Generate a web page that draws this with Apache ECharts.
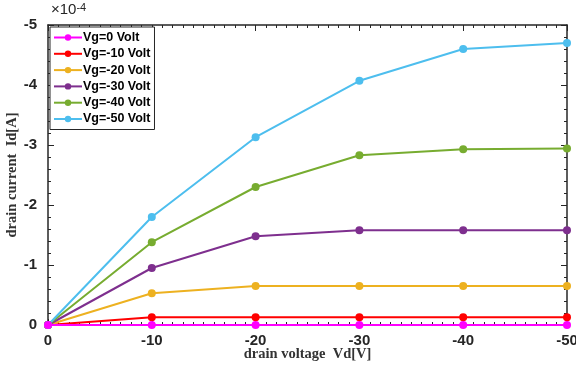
<!DOCTYPE html>
<html>
<head>
<meta charset="utf-8">
<script src="https://cdn.jsdelivr.net/npm/echarts@6/dist/echarts.min.js"></script>
<style>
  html, body { margin: 0; padding: 0; background: #fff; }
  #main { width: 576px; height: 371px; }
</style>
</head>
<body>
<div id="main"></div>
<script>
// drain voltage Vd [V]
const vd = [0, -10, -20, -30, -40, -50];
// drain current Id, in units of 1e-4 A
const vg0  = [0, 0, 0, 0, 0, 0];
const vg10 = [0, -0.13, -0.13, -0.13, -0.13, -0.13];
const vg20 = [0, -0.53, -0.65, -0.65, -0.65, -0.65];
const vg30 = [0, -0.95, -1.48, -1.58, -1.58, -1.58];
const vg40 = [0, -1.38, -2.30, -2.83, -2.93, -2.94];
const vg50 = [0, -1.80, -3.13, -4.07, -4.60, -4.70];

const names = ['Vg=0 Volt', 'Vg=-10 Volt', 'Vg=-20 Volt', 'Vg=-30 Volt', 'Vg=-40 Volt', 'Vg=-50 Volt'];
const colors = ['#ff00ff', '#ff0000', '#edb120', '#7e2f8e', '#77ac30', '#4dbeee'];
const curves = [vg0, vg10, vg20, vg30, vg40, vg50];

const axisColor = '#262626';
const labelFont = { fontFamily: 'Liberation Sans', fontWeight: 'bold', fontSize: 15, color: '#262626' };
const nameFont = { fontFamily: 'Liberation Serif', fontWeight: 'bold', fontSize: 14.5, color: '#333' };

function xAx(pos, showLabel) {
  return {
    type: 'value', position: pos, min: -50, max: 0, interval: 10, inverse: true,
    axisLine: { show: true, onZero: false, lineStyle: { color: axisColor, width: 1.5 } },
    axisTick: { show: true, inside: true, length: 6, lineStyle: { color: axisColor } },
    minorTick: { show: true, splitNumber: 10, length: 3, lineStyle: { color: axisColor } },
    splitLine: { show: false },
    axisLabel: Object.assign({ show: showLabel, margin: 8 }, labelFont),
    name: showLabel ? 'drain voltage  Vd[V]' : '',
    nameLocation: 'middle', nameGap: 22, nameMoveOverlap: false,
    nameTextStyle: nameFont
  };
}
function yAx(pos, showLabel) {
  return {
    type: 'value', position: pos, min: -5, max: 0, interval: 1, inverse: true,
    axisLine: { show: true, onZero: false, lineStyle: { color: axisColor, width: 1.5 } },
    axisTick: { show: true, inside: true, length: 6, lineStyle: { color: axisColor } },
    minorTick: { show: true, splitNumber: 5, length: 3, lineStyle: { color: axisColor } },
    splitLine: { show: false },
    axisLabel: Object.assign({ show: showLabel, margin: 11 }, labelFont),
    name: showLabel ? 'drain current  Id[A]' : '',
    nameLocation: 'middle', nameGap: 28, nameMoveOverlap: false,
    nameTextStyle: nameFont
  };
}

const chart = echarts.init(document.getElementById('main'));
chart.setOption({
  animation: false,
  grid: { left: 48, right: 9, top: 25, bottom: 46, outerBoundsMode: 'none', containLabel: false },
  xAxis: [xAx('bottom', true), xAx('top', false)],
  yAxis: [yAx('left', true), yAx('right', false)],
  legend: {
    orient: 'vertical', left: 50, top: 27,
    data: names,
    backgroundColor: '#fff', borderColor: '#262626', borderWidth: 1,
    padding: [4, 4, 4, 3], itemGap: 3.3, itemWidth: 28, itemHeight: 8,
    textStyle: { fontFamily: 'Liberation Sans', fontWeight: 'bold', fontSize: 12.5, color: '#000', padding: [0, 0, 0, -4] }
  },
  graphic: [{
    type: 'text', left: 51, top: 2,
    style: {
      text: '{a|×10}{b|-4}',
      rich: {
        a: { fontFamily: 'Liberation Sans', fontSize: 15, fill: '#262626', verticalAlign: 'bottom' },
        b: { fontFamily: 'Liberation Sans', fontSize: 11, fill: '#262626', verticalAlign: 'top' }
      }
    }
  }],
  series: curves.map((c, i) => ({
    name: names[i], type: 'line',
    data: vd.map((x, j) => [x, c[j]]),
    symbol: 'circle', symbolSize: 8,
    itemStyle: { color: colors[i] },
    lineStyle: { color: colors[i], width: 2 },
    z: i === 0 ? 10 : 2
  }))
});
</script>
</body>
</html>
